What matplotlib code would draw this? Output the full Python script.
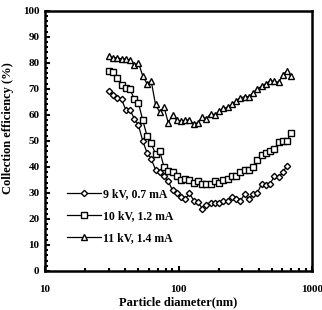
import matplotlib
matplotlib.use("Agg")
import matplotlib.pyplot as plt
from matplotlib.ticker import MultipleLocator, FixedLocator, NullFormatter

plt.rcParams['font.family'] = ['Liberation Serif', 'DejaVu Serif']
plt.rcParams['font.weight'] = 'bold'

diameter = [30, 32.3, 34.7, 37.4, 40.2, 43.3, 46.6, 50.1, 53.9, 58.0, 62.4,
            67.2, 72.3, 77.8, 83.7, 90.1, 96.9, 104.3, 112.2, 120.7, 129.9,
            139.8, 150.4, 161.8, 174.1, 187.4, 201.6, 216.9, 233.4, 251.2,
            270.2, 290.8, 312.9, 336.7, 362.2, 389.8, 419.4, 451.3, 485.6,
            522.5, 562.2, 604.9, 650.9, 690.0]

eff_9kv = [69, 67.5, 66.5, 66, 62, 62, 58.5, 56, 50, 45.5, 43, 39, 38, 36.5,
           34.5, 31, 30, 28.5, 27.5, 30, 27, 26.5, 24, 25.5, 26, 26, 26, 27,
           27, 28.5, 27.5, 27, 29.5, 27.5, 29.5, 30, 33.5, 33, 33.5, 36.5,
           36, 38, 40.5]

eff_10kv = [77, 76.5, 74, 71.5, 70.5, 70, 66, 64.5, 58, 52, 49, 45, 46, 40,
            38.5, 38, 36.5, 35, 35.5, 35, 34, 34.5, 33.5, 33.5, 33.5, 34.5,
            34, 35, 35.5, 36.5, 36.5, 38, 39, 39, 40, 42.5, 44.5, 45.5, 46,
            47, 49.5, 50, 50, 53]

eff_11kv = [82.5, 82, 82, 81.5, 81.5, 81, 79, 80, 75, 72, 73, 64, 61, 63, 57,
            60, 58, 57.5, 58, 58, 56.5, 57, 59, 58.5, 60.5, 60, 61.5, 62.5,
            63, 64, 65.5, 66.5, 67, 67, 68.5, 70, 71, 72, 73, 73, 72.5, 75.5,
            77, 75]

labels = ['9 kV, 0.7 mA', '10 kV, 1.2 mA', '11 kV, 1.4 mA']

fig = plt.figure(figsize=(3.22, 3.10), dpi=100)
ax = fig.add_axes([0.14, 0.126, 0.829, 0.839])

ax.plot(diameter[:len(eff_9kv)], eff_9kv, color='black', lw=0.9, marker='D',
        ms=3.2, mfc='white', mec='black', mew=1.0, label=labels[0])
ax.plot(diameter[:len(eff_10kv)], eff_10kv, color='black', lw=0.9, marker='s',
        ms=4.6, mfc='white', mec='black', mew=1.0, label=labels[1])
ax.plot(diameter[:len(eff_11kv)], eff_11kv, color='black', lw=0.9, marker='^',
        ms=5.0, mfc='white', mec='black', mew=1.0, label=labels[2])

ax.set_xscale('log')
ax.set_xlim(10, 1000)
ax.set_ylim(0, 100)
ax.yaxis.set_major_locator(MultipleLocator(10))
ax.yaxis.set_minor_locator(MultipleLocator(2))
ax.xaxis.set_major_locator(FixedLocator([10, 100, 1000]))
ax.xaxis.set_minor_formatter(NullFormatter())
ax.set_xticklabels(['10', '100', '1000'])

for s in ax.spines.values():
    s.set_linewidth(1.8)
ax.tick_params(axis='both', which='both', direction='in', top=False,
               right=False, labelsize=8, width=1.5)
ax.tick_params(which='major', length=3.5)
ax.tick_params(which='minor', length=2.5)
ax.tick_params(axis='x', pad=10)
ax.tick_params(axis='y', pad=4)
for t in ax.get_xticklabels() + ax.get_yticklabels():
    t.set_fontweight('bold')

fig.text(0.5 * (0.14 + 0.969), 0.004, 'Particle diameter(nm)', fontsize=9,
         fontweight='bold', ha='center', va='bottom')
fig.text(0.025, 0.126 + 0.839 * 0.55, 'Collection efficiency (%)', fontsize=9,
         fontweight='bold', ha='center', va='center', rotation=90)

leg = ax.legend(loc='lower left', bbox_to_anchor=(0.065, 0.085), frameon=False,
                fontsize=8.5, handlelength=2.9, handletextpad=0.15,
                labelspacing=0.85, borderaxespad=0)

fig.savefig('out.png', dpi=100)
